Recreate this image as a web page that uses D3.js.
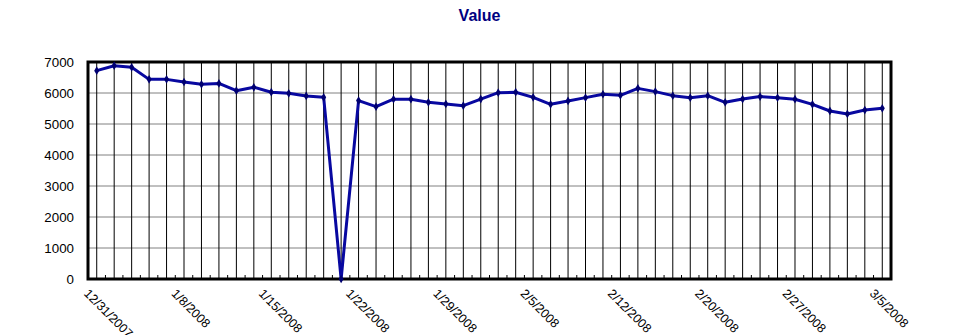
<!DOCTYPE html>
<html>
<head>
<meta charset="utf-8">
<script src="https://cdn.jsdelivr.net/npm/d3@7"></script>
<style>
body { margin: 0; background: #fff; }
text { font-family: "Liberation Sans", Arial, sans-serif; }
</style>
</head>
<body>
<div></div>
<script>
var w = 959;
var h = 335;
var margin = {left: 88, right: 68, top: 62, bottom: 56};

var dates = ["12/31/2007", "1/2/2008", "1/3/2008", "1/4/2008", "1/7/2008", "1/8/2008",
	"1/9/2008", "1/10/2008", "1/11/2008", "1/14/2008", "1/15/2008",
	"1/16/2008", "1/17/2008", "1/18/2008", "1/21/2008", "1/22/2008",
	"1/23/2008", "1/24/2008", "1/25/2008", "1/28/2008", "1/29/2008",
	"1/30/2008", "1/31/2008", "2/1/2008", "2/4/2008", "2/5/2008",
	"2/6/2008", "2/7/2008", "2/8/2008", "2/11/2008", "2/12/2008",
	"2/13/2008", "2/14/2008", "2/15/2008", "2/19/2008", "2/20/2008",
	"2/21/2008", "2/22/2008", "2/25/2008", "2/26/2008", "2/27/2008",
	"2/28/2008", "2/29/2008", "3/3/2008", "3/4/2008", "3/5/2008"];

var values = [6720, 6880, 6830, 6440, 6440, 6355,
	6280, 6310, 6075, 6185, 6025,
	5990, 5905, 5860, 0, 5755,
	5560, 5800, 5800, 5700, 5645,
	5590, 5805, 6010, 6025, 5860,
	5635, 5745, 5850, 5960, 5925,
	6150, 6045, 5915, 5850, 5915,
	5700, 5805, 5885, 5850, 5800,
	5635, 5420, 5325, 5450, 5505];

var yTicks = [0, 1000, 2000, 3000, 4000, 5000, 6000, 7000];
var labelDates = ["12/31/2007", "1/8/2008", "1/15/2008", "1/22/2008", "1/29/2008",
	"2/5/2008", "2/12/2008", "2/20/2008", "2/27/2008", "3/5/2008"];

var svg = d3.select("div").append("svg")
	.attr("width", w)
	.attr("height", h);

var x = d3.scaleBand()
	.domain(dates)
	.range([margin.left, w - margin.right])
	.padding(0);

var y = d3.scaleLinear()
	.domain([0, 7000])
	.range([h - margin.bottom, margin.top]);

//title
svg.append("text")
	.attr("x", w / 2)
	.attr("y", 21)
	.attr("text-anchor", "middle")
	.style("font-size", "16px")
	.style("font-weight", "bold")
	.attr("fill", "#000080")
	.text("Value");

//horizontal gridlines
svg.append("g").selectAll("line")
	.data(yTicks)
	.enter()
	.append("line")
	.attr("x1", margin.left)
	.attr("x2", w - margin.right)
	.attr("y1", function(d) { return y(d); })
	.attr("y2", function(d) { return y(d); })
	.attr("stroke", "#808080")
	.attr("stroke-width", 1);

//vertical gridlines through each category
svg.append("g").selectAll("line")
	.data(dates)
	.enter()
	.append("line")
	.attr("x1", function(d) { return x(d) + x.bandwidth() / 2; })
	.attr("x2", function(d) { return x(d) + x.bandwidth() / 2; })
	.attr("y1", margin.top)
	.attr("y2", h - margin.bottom)
	.attr("stroke", "#000")
	.attr("stroke-width", 1);

//small ticks at category boundaries
svg.append("g").selectAll("line")
	.data(dates)
	.enter()
	.append("line")
	.attr("x1", function(d) { return x(d); })
	.attr("x2", function(d) { return x(d); })
	.attr("y1", h - margin.bottom)
	.attr("y2", h - margin.bottom - 4)
	.attr("stroke", "#000")
	.attr("stroke-width", 1);

//plot border
svg.append("rect")
	.attr("x", margin.left)
	.attr("y", margin.top)
	.attr("width", w - margin.left - margin.right)
	.attr("height", h - margin.top - margin.bottom)
	.attr("fill", "none")
	.attr("stroke", "#000")
	.attr("stroke-width", 3);

//y axis
var yAxis = svg.append("g")
	.attr("transform", "translate(" + margin.left + ",0)")
	.call(d3.axisLeft(y).tickValues(yTicks).tickSize(0).tickPadding(14).tickFormat(d3.format("d")));
yAxis.select(".domain").remove();
yAxis.selectAll("text")
	.style("font-size", "13.33px")
	.style("font-family", "'Liberation Sans', Arial, sans-serif")
	.attr("fill", "#000");

//x labels, rotated
svg.append("g").selectAll("text")
	.data(labelDates)
	.enter()
	.append("text")
	.attr("transform", function(d) {
		return "translate(" + (x(d) + x.bandwidth() / 2 - 7) + "," + 288 + ") rotate(45)";
	})
	.attr("dy", "0.72em")
	.style("font-size", "12.5px")
	.attr("fill", "#000")
	.text(function(d) { return d; });

//line
var line = d3.line()
	.x(function(d, i) { return x(dates[i]) + x.bandwidth() / 2; })
	.y(function(d) { return y(d); });

svg.append("path")
	.datum(values)
	.attr("d", line)
	.attr("fill", "none")
	.attr("stroke", "#0808A0")
	.attr("stroke-width", 3)
	.attr("stroke-linejoin", "round");

//markers
svg.append("g").selectAll("path")
	.data(values)
	.enter()
	.append("path")
	.attr("d", d3.symbol().type(d3.symbolDiamond).size(22))
	.attr("transform", function(d, i) {
		return "translate(" + (x(dates[i]) + x.bandwidth() / 2) + "," + y(d) + ")";
	})
	.attr("fill", "#000070");
</script>
</body>
</html>
